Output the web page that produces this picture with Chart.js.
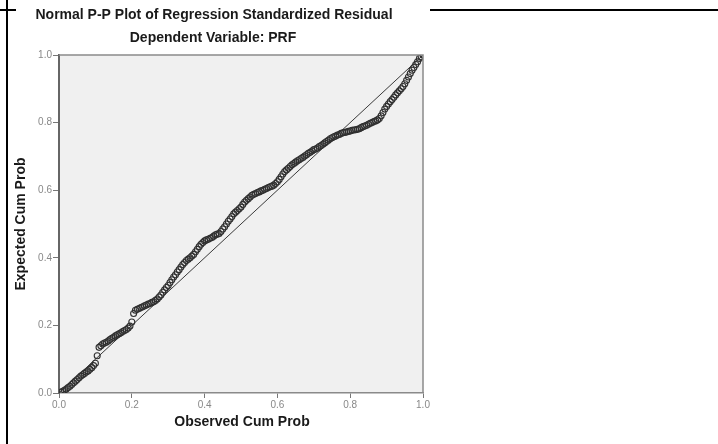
<!DOCTYPE html>
<html><head><meta charset="utf-8">
<script src="https://cdn.jsdelivr.net/npm/chart.js@4"></script>
<style>html,body{margin:0;padding:0;background:#fff}#wrap{width:718px;height:444px;position:relative}</style>
</head><body><div id="wrap"><canvas id="c" width="718" height="444"></canvas></div>
<script>
const observedCumProb = [
0.005,0.010,0.015,0.020,0.025,0.030,0.035,0.040,0.045,0.050,
0.055,0.060,0.065,0.070,0.075,0.080,0.085,0.090,0.095,0.100,
0.105,0.110,0.115,0.120,0.125,0.130,0.135,0.140,0.145,0.150,
0.155,0.160,0.165,0.170,0.175,0.180,0.185,0.190,0.195,0.200,
0.205,0.210,0.215,0.220,0.225,0.230,0.235,0.240,0.245,0.250,
0.255,0.260,0.265,0.270,0.275,0.280,0.285,0.290,0.295,0.300,
0.305,0.310,0.315,0.320,0.325,0.330,0.335,0.340,0.345,0.350,
0.355,0.360,0.365,0.370,0.375,0.380,0.385,0.390,0.395,0.400,
0.405,0.410,0.415,0.420,0.425,0.430,0.435,0.440,0.445,0.450,
0.455,0.460,0.465,0.470,0.475,0.480,0.485,0.490,0.495,0.500,
0.505,0.510,0.515,0.520,0.525,0.530,0.535,0.540,0.545,0.550,
0.555,0.560,0.565,0.570,0.575,0.580,0.585,0.590,0.595,0.600,
0.605,0.610,0.615,0.620,0.625,0.630,0.635,0.640,0.645,0.650,
0.655,0.660,0.665,0.670,0.675,0.680,0.685,0.690,0.695,0.700,
0.705,0.710,0.715,0.720,0.725,0.730,0.735,0.740,0.745,0.750,
0.755,0.760,0.765,0.770,0.775,0.780,0.785,0.790,0.795,0.800,
0.805,0.810,0.815,0.820,0.825,0.830,0.835,0.840,0.845,0.850,
0.855,0.860,0.865,0.870,0.875,0.880,0.885,0.890,0.895,0.900,
0.905,0.910,0.915,0.920,0.925,0.930,0.935,0.940,0.945,0.950,
0.955,0.960,0.965,0.970,0.975,0.980,0.985,0.990,0.995,1.000];
const expectedCumProb = [
0.002,0.005,0.008,0.012,0.016,0.020,0.025,0.030,0.035,0.040,
0.045,0.050,0.054,0.058,0.062,0.065,0.070,0.075,0.081,0.088,
0.110,0.135,0.140,0.145,0.148,0.150,0.154,0.158,0.162,0.165,
0.169,0.172,0.175,0.178,0.182,0.185,0.188,0.192,0.198,0.210,
0.235,0.245,0.248,0.250,0.253,0.255,0.258,0.260,0.263,0.265,
0.268,0.270,0.274,0.278,0.284,0.290,0.298,0.305,0.312,0.318,
0.327,0.335,0.343,0.350,0.358,0.365,0.373,0.380,0.386,0.392,
0.396,0.400,0.405,0.410,0.418,0.425,0.433,0.440,0.445,0.450,
0.453,0.455,0.458,0.460,0.464,0.468,0.470,0.472,0.478,0.485,
0.492,0.500,0.508,0.515,0.522,0.530,0.535,0.540,0.545,0.550,
0.558,0.565,0.570,0.575,0.580,0.585,0.588,0.590,0.593,0.595,
0.598,0.600,0.603,0.605,0.608,0.610,0.612,0.615,0.620,0.625,
0.632,0.640,0.648,0.655,0.660,0.665,0.670,0.675,0.679,0.683,
0.687,0.690,0.694,0.697,0.701,0.705,0.709,0.712,0.716,0.720,
0.722,0.725,0.729,0.732,0.736,0.740,0.744,0.748,0.752,0.755,
0.758,0.760,0.763,0.765,0.768,0.770,0.771,0.772,0.774,0.775,
0.777,0.778,0.779,0.780,0.782,0.785,0.788,0.790,0.792,0.795,
0.798,0.800,0.803,0.805,0.808,0.812,0.820,0.830,0.840,0.848,
0.855,0.862,0.868,0.875,0.882,0.888,0.894,0.900,0.907,0.915,
0.925,0.935,0.945,0.955,0.963,0.972,0.980,0.990,0.995,1.000];
const referenceLine = [0, 1];
const tickValues = [0.0, 0.2, 0.4, 0.6, 0.8, 1.0];
const titleText = "Normal P-P Plot of Regression Standardized Residual";
const subtitleText = "Dependent Variable: PRF";
const xTitle = "Observed Cum Prob";
const yTitle = "Expected Cum Prob";

const FONT = '"Liberation Sans", Arial, sans-serif';

const decor = {
  id: 'decor',
  beforeDraw(chart) {
    const ctx = chart.ctx, a = chart.chartArea;
    ctx.save();
    ctx.fillStyle = '#fff';
    ctx.fillRect(0, 0, chart.width, chart.height);
    ctx.fillStyle = '#f0f0f0';
    ctx.fillRect(a.left, a.top, a.right - a.left, a.bottom - a.top);
    ctx.restore();
  },
  afterDraw(chart) {
    const ctx = chart.ctx, a = chart.chartArea;
    ctx.save();
    ctx.strokeStyle = '#8a8a8a';
    ctx.lineWidth = 1.5;
    ctx.beginPath();
    ctx.moveTo(a.left, a.top); ctx.lineTo(a.right, a.top); ctx.lineTo(a.right, a.bottom);
    ctx.stroke();
    ctx.strokeStyle = '#000';
    ctx.lineWidth = 2;
    ctx.beginPath();
    ctx.moveTo(7, 0); ctx.lineTo(7, 444);
    ctx.moveTo(0, 10); ctx.lineTo(16, 10);
    ctx.moveTo(430, 10); ctx.lineTo(718, 10);
    ctx.stroke();
    ctx.fillStyle = '#1a1a1a';
    ctx.font = 'bold 14px ' + FONT;
    ctx.textAlign = 'center';
    ctx.textBaseline = 'alphabetic';
    ctx.fillText(titleText, 214, 19);
    ctx.fillText(subtitleText, 213, 42);
    ctx.fillText(xTitle, 242, 426);
    ctx.translate(25, 224);
    ctx.rotate(-Math.PI / 2);
    ctx.fillText(yTitle, 0, 0);
    ctx.restore();
  }
};

new Chart(document.getElementById('c'), {
  type: 'scatter',
  data: {
    datasets: [
      {
        type: 'line',
        data: referenceLine.map(v => ({x: v, y: v})),
        borderColor: '#3a3a3a',
        borderWidth: 1,
        pointRadius: 0,
        fill: false,
        order: 2
      },
      {
        data: observedCumProb.map((x, i) => ({x: x, y: expectedCumProb[i]})),
        pointStyle: 'circle',
        pointRadius: 3,
        pointBorderWidth: 1.1,
        pointBorderColor: '#303030',
        pointBackgroundColor: 'rgba(0,0,0,0)',
        order: 1
      }
    ]
  },
  options: {
    responsive: false,
    animation: false,
    devicePixelRatio: 1,
    layout: { padding: { left: 0, right: 295, top: 55, bottom: 0 } },
    plugins: { legend: { display: false }, tooltip: { enabled: false }, title: { display: false } },
    scales: {
      x: {
        type: 'linear', min: 0, max: 1,
        afterBuildTicks(s) { s.ticks = tickValues.map(v => ({value: v})); },
        afterFit(s) { s.height = 51; },
        grid: { drawOnChartArea: false, drawTicks: true, tickLength: 5, color: '#777', lineWidth: 1 },
        border: { display: true, color: '#8a8a8a', width: 1.5 },
        ticks: { color: '#888', font: { size: 10, family: FONT }, padding: 1, maxRotation: 0,
          callback: v => Number(v).toFixed(1) }
      },
      y: {
        type: 'linear', min: 0, max: 1,
        afterBuildTicks(s) { s.ticks = tickValues.map(v => ({value: v})); },
        afterFit(s) { s.width = 59; },
        grid: { drawOnChartArea: false, drawTicks: true, tickLength: 6, color: '#777', lineWidth: 1 },
        border: { display: true, color: '#666', width: 2 },
        ticks: { color: '#888', font: { size: 10, family: FONT }, padding: 1,
          callback: v => Number(v).toFixed(1) }
      }
    }
  },
  plugins: [decor]
});
</script>
</body></html>
